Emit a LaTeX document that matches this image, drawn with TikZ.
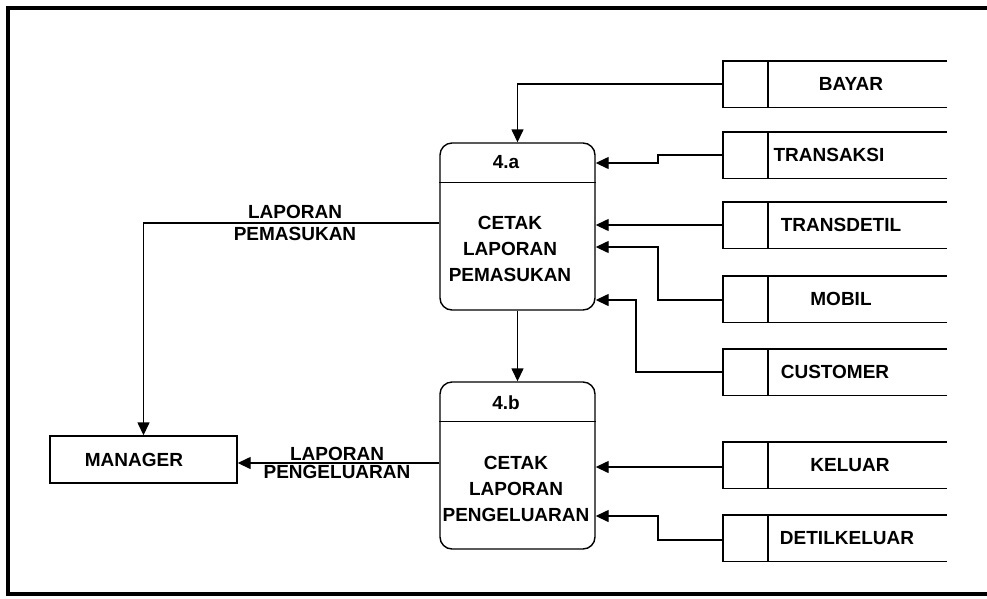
\documentclass[tikz,border=0pt]{standalone}
\usepackage{fontspec}
\setmainfont{Liberation Sans}
\usetikzlibrary{arrows.meta}
\tikzset{
  ln/.style={line width=1.4pt, black},
  arr/.style={ln, -{Triangle[length=13pt,width=12pt]}},
  proc/.style={draw, line width=1.4pt, rounded corners=12pt, minimum width=155pt, minimum height=167pt, inner sep=0pt},
  store/.style={minimum width=224pt, minimum height=46pt, inner sep=0pt},
  ent/.style={draw, line width=1.4pt, minimum width=187pt, minimum height=47pt, inner sep=0pt},
  txt/.style={font=\fontsize{19}{22}\selectfont\bfseries, inner sep=0pt, align=center},
}
\begin{document}
\begin{tikzpicture}[x=1pt,y=-1pt]
\useasboundingbox (0,0) rectangle (987,598);
% frame
\draw[line width=3.5pt] (987,8) -- (8,8) -- (8,594) -- (987,594);

% processes
\node[proc] (p4a) at (517.5,226.5) {};
\node[proc] (p4b) at (517.5,465.5) {};
\draw[ln] ([yshift=-40pt]p4a.north west) -- ([yshift=-40pt]p4a.north east);
\draw[ln] ([yshift=-40pt]p4b.north west) -- ([yshift=-40pt]p4b.north east);
\node[txt] (h4a) at (506,162) {4.a};
\node[txt] (h4b) at (506,403) {4.b};
\node[txt, font=\fontsize{19}{26}\selectfont\bfseries] (b4a) at (510,249) {CETAK\\LAPORAN\\PEMASUKAN};
\node[txt, font=\fontsize{19}{26}\selectfont\bfseries] (b4b) at (516,489) {CETAK\\LAPORAN\\PENGELUARAN};

% external entity
\node[ent] (mgr) at (143.5,459.5) {};
\node[txt] (mgrt) at (134,460) {MANAGER};

% data stores
\node[store] (s1) at (835,84) {};
\node[store] (s2) at (835,155) {};
\node[store] (s3) at (835,225) {};
\node[store] (s4) at (835,299) {};
\node[store] (s5) at (835,372) {};
\node[store] (s6) at (835,465) {};
\node[store] (s7) at (835,538) {};
\foreach \s in {s1,s2,s3,s4,s5,s6,s7}{
  \draw[ln] (\s.north east) -- (\s.north west) -- (\s.south west) -- (\s.south east);
  \draw[ln] ([xshift=45pt]\s.north west) -- ([xshift=45pt]\s.south west);
}
\node[txt] (t1) at (851,84) {BAYAR};
\node[txt] (t2) at (829,155) {TRANSAKSI};
\node[txt] (t3) at (841,225) {TRANSDETIL};
\node[txt] (t4) at (841,299) {MOBIL};
\node[txt] (t5) at (835,372) {CUSTOMER};
\node[txt] (t6) at (850,465) {KELUAR};
\node[txt] (t7) at (847,538) {DETILKELUAR};

% junction points
\coordinate (j2) at (658,163);
\coordinate (j4) at (658,247);
\coordinate (j5) at (636,300);
\coordinate (j7) at (658,516);
\coordinate (j8) at (143.5,223);
\coordinate (j9) at (0,463);
\coordinate (j6) at (0,467);

% flows into processes
\draw[arr] (s1.west) -| (p4a.north);
\draw[arr] (s2.west) -| (j2) -- (p4a.east |- j2);
\draw[arr] (s3.west) -- (p4a.east |- s3.west);
\draw[arr] ([yshift=-1pt]s4.west) -| (j4) -- (p4a.east |- j4);
\draw[arr] (s5.west) -| (j5) -- (p4a.east |- j5);
\draw[arr] (s6.west |- j6) -- (p4b.east |- j6);
\draw[arr] ([yshift=-2pt]s7.west) -| (j7) -- (p4b.east |- j7);
\draw[arr] (p4a.south) -- (p4b.north);

% flows to manager
\draw[arr] (p4a.west |- j8) -| (mgr.north);
\draw[arr] (p4b.west |- j9) -- (mgr.east |- j9);
\node[txt, font=\fontsize{19}{22}\selectfont\bfseries] (l1) at (295,222.5) {LAPORAN\\PEMASUKAN};
\node[txt, font=\fontsize{19}{18}\selectfont\bfseries] (l2) at (337,462.5) {LAPORAN\\PENGELUARAN};
\end{tikzpicture}
\end{document}
